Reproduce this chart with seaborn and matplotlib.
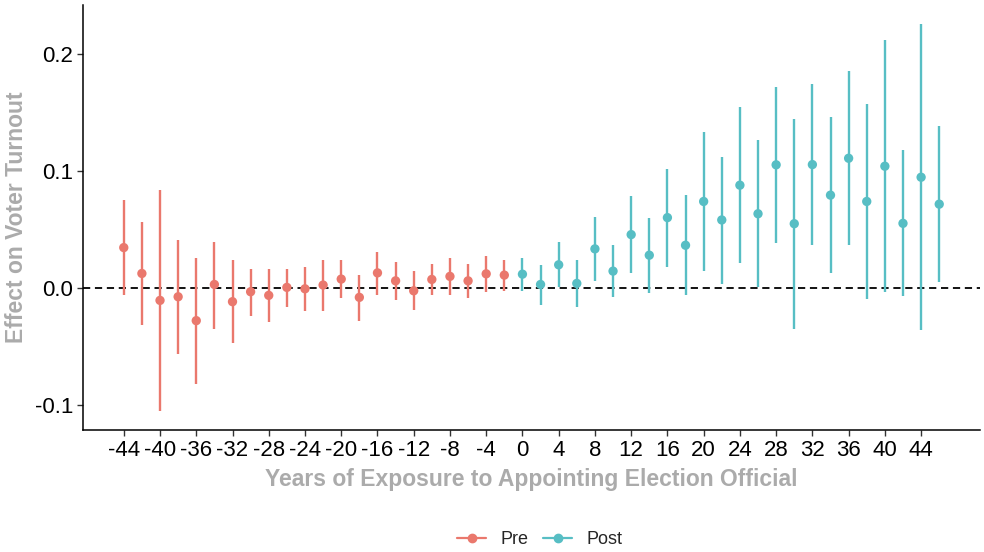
import numpy as np
import pandas as pd
import matplotlib
matplotlib.use("Agg")
import matplotlib.pyplot as plt
from matplotlib.lines import Line2D
import seaborn as sns

# ---- data ----
years = list(range(-44, 48, 2))
estimate = [0.0346, 0.0125, -0.0105, -0.0074, -0.0278, 0.0031, -0.0116, -0.0031, -0.0062, 0.0006,
            -0.0006, 0.0026, 0.0077, -0.0079, 0.0130, 0.0062, -0.0023, 0.0074, 0.0100, 0.0062,
            0.0122, 0.0111,
            0.0119, 0.0031, 0.0199, 0.0040, 0.0335, 0.0145, 0.0457, 0.0281, 0.0602, 0.0366,
            0.0740, 0.0582, 0.0879, 0.0635, 0.1053, 0.0550, 0.1055, 0.0794, 0.1109, 0.0740,
            0.1041, 0.0553, 0.0947, 0.0717]
upper = [0.0749, 0.0564, 0.0840, 0.0414, 0.0258, 0.0397, 0.0241, 0.0167, 0.0164, 0.0164,
         0.0184, 0.0241, 0.0241, 0.0116, 0.0309, 0.0224, 0.0142, 0.0202, 0.0258, 0.0202,
         0.0278, 0.0236,
         0.0258, 0.0196, 0.0391, 0.0244, 0.0607, 0.0366, 0.0786, 0.0602, 0.1013, 0.0791,
         0.1333, 0.1120, 0.1549, 0.1268, 0.1714, 0.1441, 0.1745, 0.1458, 0.1853, 0.1569,
         0.2116, 0.1177, 0.2253, 0.1381]
lower = [-0.0060, -0.0315, -0.1047, -0.0562, -0.0820, -0.0346, -0.0471, -0.0236, -0.0292, -0.0159,
         -0.0198, -0.0193, -0.0088, -0.0281, -0.0057, -0.0102, -0.0187, -0.0060, -0.0062, -0.0082,
         -0.0034, -0.0023,
         -0.0028, -0.0142, 0.0006, -0.0164, 0.0062, -0.0079, 0.0125, -0.0045, 0.0181, -0.0062,
         0.0142, 0.0034, 0.0216, 0.0011, 0.0389, -0.0346, 0.0366, 0.0130, 0.0366, -0.0091,
         -0.0031, -0.0071, -0.0357, 0.0054]
period = ["Pre" if y < 0 else "Post" for y in years]

x_ticks = list(range(-44, 45, 4))
y_ticks = [-0.1, 0.0, 0.1, 0.2]
y_tick_labels = ["-0.1", "0.0", "0.1", "0.2"]

palette = {"Pre": "#EA786D", "Post": "#57BEC4"}

df = pd.DataFrame({"year": years, "est": estimate, "lo": lower, "hi": upper, "period": period})

sns.set_theme(style="white")
plt.rcParams["font.family"] = ["Liberation Sans", "DejaVu Sans"]

fig = plt.figure(figsize=(9.84, 5.52), dpi=100)
ax = fig.add_axes([83 / 984, (552 - 430) / 552, (980 - 83) / 984, (430 - 5) / 552])

ax.axhline(0, color="black", lw=1.3, ls=(0, (4, 2.6)), zorder=1)

for p in ["Pre", "Post"]:
    sub = df[df["period"] == p]
    ax.vlines(sub["year"], sub["lo"], sub["hi"], color=palette[p], lw=1.7, zorder=2)

sns.scatterplot(data=df, x="year", y="est", hue="period", palette=palette,
                s=45, linewidth=0, ax=ax, legend=False, zorder=3)

ax.set_xlim(-48.5, 50.5)
ax.set_ylim(-0.1212, 0.2418)
ax.set_xticks(x_ticks)
ax.set_xticklabels([str(v) for v in x_ticks])
ax.set_yticks(y_ticks)
ax.set_yticklabels(y_tick_labels)

for s in ["top", "right"]:
    ax.spines[s].set_visible(False)
for s in ["left", "bottom"]:
    ax.spines[s].set_color("black")
    ax.spines[s].set_linewidth(1.1)

ax.tick_params(axis="both", which="major", length=4, width=1, color="#333333",
               labelsize=16, labelcolor="black", pad=3, direction="out",
               bottom=True, left=True)

ax.set_xlabel("Years of Exposure to Appointing Election Official", fontsize=16.5,
              fontweight="bold", color="#ABABAB", labelpad=5)
ax.set_ylabel("Effect on Voter Turnout", fontsize=16.5, fontweight="bold",
              color="#ABABAB", labelpad=5)

handles = [Line2D([0], [0], color=palette[p], marker="o", markersize=6, lw=1.6, label=p)
           for p in ["Pre", "Post"]]
fig.legend(handles=handles, loc="center", bbox_to_anchor=(540 / 984, 12 / 552), ncol=2,
           frameon=False, fontsize=13, handlelength=1.6, columnspacing=0.8, handletextpad=0.8)

fig.savefig("out.png", dpi=100)
